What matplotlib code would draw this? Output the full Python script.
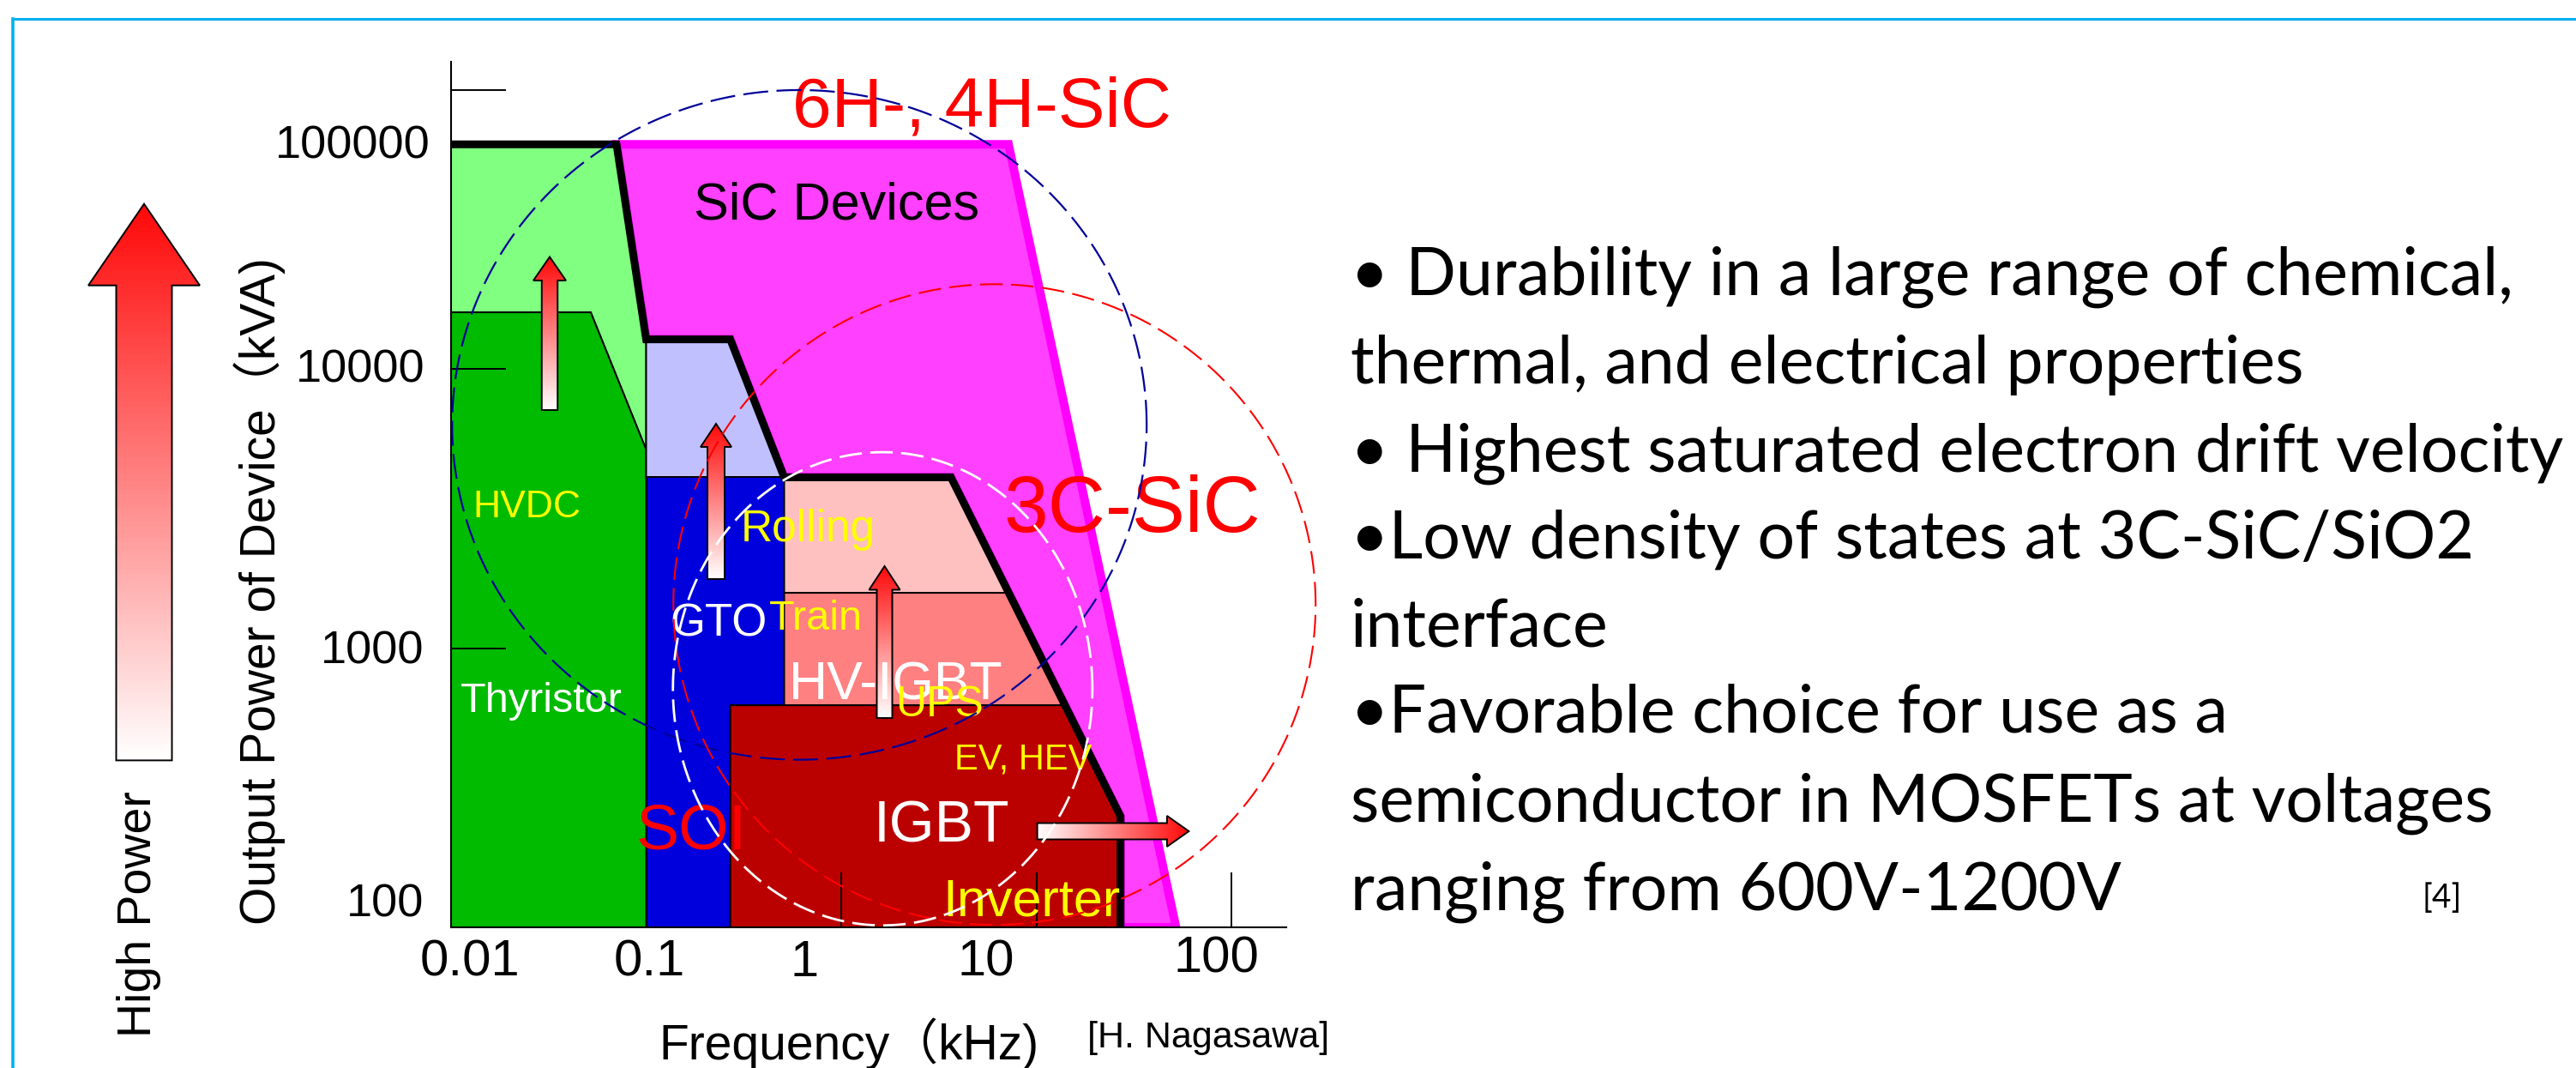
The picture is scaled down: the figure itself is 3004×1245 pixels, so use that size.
import numpy as np
import matplotlib
matplotlib.use("Agg")
import matplotlib.pyplot as plt
from matplotlib.patches import Polygon
from matplotlib.collections import PolyCollection
from matplotlib.lines import Line2D
from matplotlib.ticker import FixedLocator, NullLocator
from matplotlib.transforms import Affine2D, ScaledTranslation

plt.rcParams["lines.scale_dashes"] = False

W, H, DPI = 3004, 1245, 100
CHART_FONT = ["Liberation Sans", "Noto Sans CJK JP", "DejaVu Sans"]
TEXT_FONT = ["Lato", "DejaVu Sans"]

# ---------------- axis ticks ----------------
freq_ticks = [0.01, 0.1, 1, 10, 100]
freq_tick_labels = ["0.01", "0.1", "1", "10", "100"]
power_ticks = [100, 1000, 10000, 100000]
power_tick_labels = ["100", "1000", "10000", "100000"]

# ---------------- application regions (kHz, kVA) ----------------
sic_freq = [0.0705, 7.2, 52.0, 27.0, 27.0, 3.65, 0.51, 0.27, 0.1]
sic_power = [64000, 64000, 100, 100, 250, 4100, 4100, 12800, 12800]

hvdc_freq = [0.01, 0.0705, 0.1, 0.1, 0.052, 0.01]
hvdc_power = [64000, 64000, 12800, 5150, 16000, 16000]

thyristor_freq = [0.01, 0.052, 0.1, 0.1, 0.01]
thyristor_power = [16000, 16000, 5150, 100, 100]

gto_upper_freq = [0.1, 0.27, 0.51, 0.1]
gto_upper_power = [12800, 12800, 4100, 4100]

gto_freq = [0.1, 0.51, 0.51, 0.27, 0.27, 0.1]
gto_power = [4100, 4100, 625, 625, 100, 100]

rolling_freq = [0.51, 3.65, 7.2, 0.51]
rolling_power = [4100, 4100, 1580, 1580]

hvigbt_freq = [0.51, 7.2, 14.0, 0.51]
hvigbt_power = [1580, 1580, 625, 625]

igbt_freq = [0.27, 14.0, 27.0, 27.0, 0.27]
igbt_power = [625, 625, 250, 100, 100]

# present limit of silicon devices
si_limit_freq = [0.01, 0.0705, 0.1, 0.27, 0.51, 3.65, 27.0, 27.0]
si_limit_power = [64000, 64000, 12800, 12800, 4100, 4100, 250, 100]

# coverage ellipses: centre (kHz, kVA), half-extent in decades
ellipse_center_freq = [0.61, 6.1, 1.63]
ellipse_center_power = [6320, 1435, 716]
ellipse_half_dec_freq = [1.78, 1.646, 1.075]
ellipse_half_dec_power = [1.20, 1.148, 0.848]

bullet_lines = [
    "\u2022 Durability in a large range of chemical,",
    "thermal, and electrical properties",
    "\u2022 Highest saturated electron drift velocity",
    "\u2022Low density of states at 3C-SiC/SiO2",
    "interface",
    "\u2022Favorable choice for use as a",
    "semiconductor in MOSFETs at voltages",
    "ranging from 600V-1200V",
]

# ---------------- figure ----------------
fig = plt.figure(figsize=(W / DPI, H / DPI), dpi=DPI)
fig.patch.set_facecolor("white")
# transform for positions given in figure pixels, origin at top-left
pix = Affine2D().scale(1 / DPI, -1 / DPI).translate(0, H / DPI) + fig.dpi_scale_trans

ax = fig.add_axes([526 / W, (H - 1081) / H, (1500 - 526) / W, (1081 - 72) / H])
ax.set_xscale("log")
ax.set_yscale("log")
ax.set_autoscale_on(False)
ax.set_xlim(0.01, 191)
ax.set_ylim(100, 126500)
ax.set_facecolor("white")
for side in ("top", "right"):
    ax.spines[side].set_visible(False)
for side in ("left", "bottom"):
    ax.spines[side].set_linewidth(1.5)
    ax.spines[side].set_color("black")

# regions
regions = [
    (sic_freq, sic_power, "#FF40FF", "#FF00FF", 7.2),
    (hvdc_freq, hvdc_power, "#80FF80", "black", 1.4),
    (thyristor_freq, thyristor_power, "#00BB00", "black", 1.4),
    (gto_upper_freq, gto_upper_power, "#C0C0FF", "black", 1.4),
    (gto_freq, gto_power, "#0000DD", "black", 1.4),
    (rolling_freq, rolling_power, "#FFC0C0", "black", 1.4),
    (hvigbt_freq, hvigbt_power, "#FF8080", "black", 1.4),
    (igbt_freq, igbt_power, "#BB0000", "black", 1.4),
]
for f, p, fc, ec, lw in regions:
    ax.add_patch(Polygon(np.column_stack([f, p]), closed=True, facecolor=fc,
                         edgecolor=ec, lw=lw, zorder=1))

ax.plot(si_limit_freq, si_limit_power, color="black", lw=6.5,
        solid_joinstyle="miter", solid_capstyle="butt", zorder=2)


def gradient_arrow(tail, tip, shaft_w, head_w, head_len, n=140):
    tail = np.asarray(tail, float)
    tip = np.asarray(tip, float)
    d = tip - tail
    u = d / np.hypot(*d)
    nv = np.array([-u[1], u[0]])
    base = tip - u * head_len
    verts = [tail + nv * shaft_w / 2, base + nv * shaft_w / 2, base + nv * head_w / 2,
             tip, base - nv * head_w / 2, base - nv * shaft_w / 2, tail - nv * shaft_w / 2]
    outline = Polygon(verts, closed=True, transform=pix, facecolor="none",
                      edgecolor="black", lw=1.4, zorder=3.1, clip_on=False)
    ax.add_patch(outline)
    ts = np.linspace(0, 1, n + 1)
    quads, cols = [], []
    for a, b in zip(ts[:-1], ts[1:]):
        p0 = tail + d * a
        p1 = tail + d * min(b + 0.005, 1.0)
        quads.append([p0 + nv * head_w, p1 + nv * head_w, p1 - nv * head_w, p0 - nv * head_w])
        t = 0.5 * (a + b)
        cols.append((1.0, 1.0 - 0.97 * t, 1.0 - 0.97 * t))
    pc = PolyCollection(quads, facecolors=cols, edgecolors="none", transform=pix,
                        zorder=3, antialiased=False)
    pc.set_clip_path(outline)
    ax.add_collection(pc, autolim=False)


gradient_arrow((641, 478), (641, 299.5), 18.5, 38, 27.5)
gradient_arrow((835, 675), (835, 494), 20, 36, 27)
gradient_arrow((1031.5, 837), (1031.5, 660), 18, 36, 27.5)
gradient_arrow((1209.6, 969), (1386.4, 969), 19, 36, 25.5)
gradient_arrow((168, 886.4), (168, 237.7), 65, 130, 95)


def label(x, y, s, size, color, ha="center", va="baseline", **kw):
    ax.text(x, y, s, transform=pix, fontsize=size, color=color, ha=ha, va=va,
            family=CHART_FONT, zorder=4, clip_on=False, **kw)


label(1145, 147, "6H-, 4H-SiC", 59, "#FF0000")
label(976, 256, "SiC Devices", 44, "black")
label(1320, 620, "3C-SiC", 67, "#FF0000")
label(614, 603, "HVDC", 32, "#FFFF00")
label(942, 631, "Rolling", 37, "#FFFF00")
label(838, 742, "GTO", 38, "white")
label(951, 734, "Train", 35, "#FFFF00")
label(1045, 816, "HV-IGBT", 45, "white")
label(1096, 835, "UPS", 36, "#FFFF00")
label(1193, 897, "EV, HEV", 30, "#FFFF00")
label(631, 830, "Thyristor", 35, "white")
label(806, 990, "SOI", 54, "#FF0000")
label(1098, 981, "IGBT", 49, "white")
label(1203, 1068, "Inverter", 44, "#FFFF00")

# coverage ellipses
t = np.linspace(0, 2 * np.pi, 600)
ell_styles = [("#000099", 1.6, (21, 7)), ("#FF0000", 1.5, (19, 7)), ("white", 2.0, (19, 7))]
for cf, cp, rf, rp, (col, lw, ds) in zip(ellipse_center_freq, ellipse_center_power,
                                         ellipse_half_dec_freq, ellipse_half_dec_power,
                                         ell_styles):
    ax.plot(cf * 10 ** (rf * np.cos(t)), cp * 10 ** (rp * np.sin(t)), color=col,
            lw=lw, dashes=ds, zorder=5, clip_on=False)

# ticks
ax.xaxis.set_major_locator(FixedLocator(freq_ticks))
ax.yaxis.set_major_locator(FixedLocator(power_ticks))
ax.xaxis.set_minor_locator(NullLocator())
ax.yaxis.set_minor_locator(NullLocator())
ax.set_xticklabels(freq_tick_labels, family=CHART_FONT, fontsize=43)
ax.set_yticklabels(power_tick_labels, family=CHART_FONT, fontsize=39)
ax.tick_params(axis="x", direction="in", length=46, width=1.4, pad=10, colors="black")
ax.tick_params(axis="y", direction="in", length=46, width=1.4, pad=20, colors="black")

xshift = [(22, 0), (4, 0), (-43, 0), (-58.5, 0), (-18, -4)]
yshift = [(-4, -31.6), (-4, -2), (-3, -4.5), (3, 60)]
for lab, (dx, dy) in zip(ax.get_xticklabels(), xshift):
    lab.set_transform(lab.get_transform() + ScaledTranslation(dx / DPI, -dy / DPI, fig.dpi_scale_trans))
for lab, (dx, dy) in zip(ax.get_yticklabels(), yshift):
    lab.set_transform(lab.get_transform() + ScaledTranslation(dx / DPI, -dy / DPI, fig.dpi_scale_trans))

ax.set_ylabel("Output Power of Device\uff08kVA)", family=CHART_FONT, fontsize=41)
ax.yaxis.set_label_coords((333 - 526) / 974, (1081 - 689) / 1009)
ax.set_xlabel("Frequency\uff08kHz)", family=CHART_FONT, fontsize=41)
ax.xaxis.set_label_coords((990 - 526) / 974, (1081 - 1186) / 1009)
label(1268, 1221, "[H. Nagasawa]", 31, "black", ha="left")

label(162, 1066, "High Power", 40, "black", va="center", rotation=90)

# bullet list
baselines = [343.5, 446.8, 550, 650.6, 754, 854, 957.7, 1061]
for yb, s in zip(baselines, bullet_lines):
    ax.text(1575, yb, s, transform=pix, fontsize=55.5, family=TEXT_FONT, color="black",
            ha="left", va="baseline", clip_on=False)
ax.text(2848, 1058, "[4]", transform=pix, fontsize=28, family=TEXT_FONT, color="black",
        ha="center", va="baseline", clip_on=False)

# slide frame
fig.add_artist(Line2D([15, W], [21.5, 21.5], transform=pix, color="#00B0F0", lw=2.2))
fig.add_artist(Line2D([15, 15], [21.5, H], transform=pix, color="#00B0F0", lw=2.6))

fig.savefig("out.png", dpi=DPI, facecolor="white")
